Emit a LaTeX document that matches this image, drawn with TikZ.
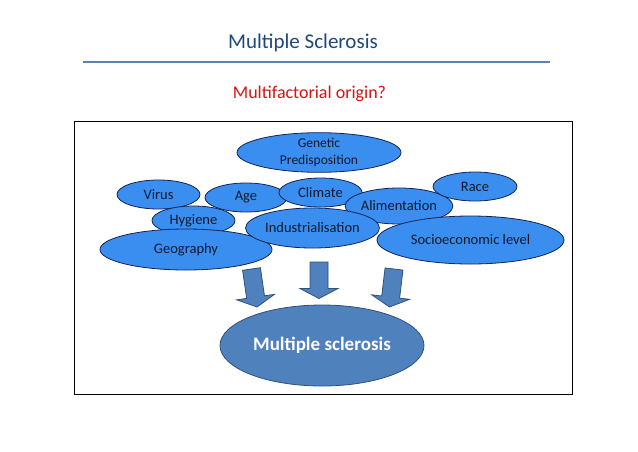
\documentclass[tikz,border=0pt]{standalone}
\usepackage{fontspec}
\setmainfont{Carlito}
\usetikzlibrary{shapes.geometric,calc}
\definecolor{smallfill}{RGB}{58,142,240}
\definecolor{smallline}{RGB}{20,35,85}
\definecolor{smalltext}{RGB}{15,25,45}
\definecolor{msblue}{RGB}{79,129,189}
\definecolor{msline}{RGB}{50,80,125}
\definecolor{titleblue}{RGB}{31,73,125}
\definecolor{rulerblue}{RGB}{90,130,180}
\definecolor{redtext}{RGB}{215,20,20}
\begin{document}
\begin{tikzpicture}[x=1pt,y=-1pt,
  factor/.style={ellipse,draw=smallline,line width=0.8pt,fill=smallfill,inner sep=0pt,text=smalltext,font=\fontsize{14.5}{17}\selectfont},
  blockarrow/.style={fill=msblue,draw=msline,line width=0.8pt,line join=miter}]
\useasboundingbox (0,0) rectangle (638,451);
\fill[white] (0,0) rectangle (638,451);
% title
\node[text=titleblue,font=\fontsize{21}{24}\selectfont] (title) at (303,43) {Multiple Sclerosis};
\coordinate (rulel) at (83,62);
\coordinate (ruler) at (550,62);
\draw[rulerblue,line width=1.6pt] (rulel) -- (ruler);
\node[text=redtext,font=\fontsize{18}{21}\selectfont] (sub) at (309.5,94) {Multifactorial origin?};
% frame
\node[draw=black,line width=0.9pt,minimum width=498pt,minimum height=273pt,inner sep=0pt] (frame) at (323,257.5) {};
% factors
\node[factor,minimum width=164pt,minimum height=39pt,align=center,font=\fontsize{13.5}{16.5}\selectfont] (gen) at (319,152.5) {Genetic\\Predisposition};
\node[factor,minimum width=83pt,minimum height=29pt] (virus) at (158.5,194.5) {Virus};
\node[factor,minimum width=82pt,minimum height=29pt] (age) at (246,197.5) {Age};
\node[factor,minimum width=83pt,minimum height=29pt] (climate) at (320.5,192.5) {Climate};
\node[factor,minimum width=100pt,minimum height=36pt] (aliment) at (399,206) {Alimentation};
\node[factor,minimum width=84pt,minimum height=29pt] (race) at (475,186.5) {Race};
\node[factor,minimum width=83pt,minimum height=29pt] (hyg) at (193.5,220.5) {Hygiene};
\node[factor,minimum width=172pt,minimum height=41pt] (geo) at (186,249.5) {Geography};
\node[factor,minimum width=133pt,minimum height=40pt] (ind) at (312.5,228) {Industrialisation};
\node[factor,minimum width=187pt,minimum height=48pt] (socio) at (470.5,240) {Socioeconomic level};
% arrows
\coordinate (a1s) at (251.5,269);
\coordinate (a1t) at (257,307);
\coordinate (a2s) at (319,262);
\coordinate (a2t) at (319,298.5);
\coordinate (a3s) at (394,269);
\coordinate (a3t) at (389.5,307);
\foreach \s/\t in {a1s/a1t,a2s/a2t,a3s/a3t}{
  \coordinate (h) at ($(\t)!10pt!(\s)$);
  \draw[blockarrow]
    ($(\s)!9pt!90:(\t)$) -- ($(h)!9pt!-90:(\s)$) -- ($(h)!19pt!-90:(\s)$) -- (\t)
    -- ($(h)!19pt!90:(\s)$) -- ($(h)!9pt!90:(\s)$) -- ($(\s)!9pt!-90:(\t)$) -- cycle;
}
% outcome
\node[ellipse,fill=msblue,draw=msline,line width=0.8pt,minimum width=204pt,minimum height=81pt,inner sep=0pt,text=white,font=\fontsize{19}{22}\selectfont\bfseries] (ms) at (322,345.5) {Multiple sclerosis};
\end{tikzpicture}
\end{document}
